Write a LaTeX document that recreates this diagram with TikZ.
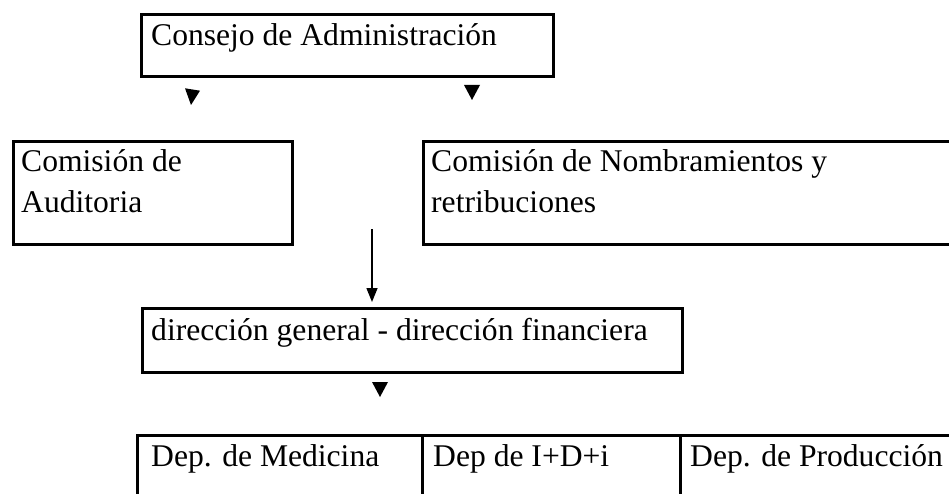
\documentclass[tikz,border=0pt]{standalone}
\usepackage{fontspec}
\setmainfont{Liberation Serif}
\usetikzlibrary{arrows.meta}
\begin{document}
\begin{tikzpicture}[x=1pt,y=-1pt,
  boxshape/.style={draw=black, line width=3pt, outer sep=0pt, inner sep=0pt, anchor=north west},
  lbl/.style={anchor=base west, inner sep=0pt, font=\fontsize{31.6}{36}\selectfont},
  tri/.style={fill=black, draw=none}]
\useasboundingbox (0,0) rectangle (949,494);
\clip (0,0) rectangle (949,494);
% boxes
\node[boxshape, minimum width=411.5pt, minimum height=62.5pt] (consejo) at (141.5,14.5) {};
\node[lbl] (tconsejo) at (151,46) {Consejo de Administración};
\node[boxshape, minimum width=279pt, minimum height=103pt] (audit) at (13.5,141.5) {};
\node[lbl] (ta1) at (21,172) {Comisión de};
\node[lbl] (ta2) at (21,212) {Auditoria};
\node[boxshape, minimum width=560pt, minimum height=103pt] (nomb) at (423.5,141.5) {};
\node[lbl] (tn1) at (431,172) {Comisión de Nombramientos y};
\node[lbl] (tn2) at (431,212) {retribuciones};
\node[boxshape, minimum width=540pt, minimum height=64pt] (dir) at (142,308) {};
\node[lbl] (td) at (151,340) {dirección general - dirección financiera};
% bottom row of departments
\node[boxshape, minimum width=285.5pt, minimum height=100pt] (med) at (137,435) {};
\node[boxshape, minimum width=258pt, minimum height=100pt] (idi) at (422.5,435) {};
\node[boxshape, minimum width=520pt, minimum height=100pt] (prod) at (680.5,435) {};
\node[lbl] (tm) at (151,466) {Dep. de Medicina};
\node[lbl] (ti) at (433,466) {Dep de I+D+i};
\node[lbl] (tp) at (690,466) {Dep. de Producción};
% loose arrowheads
\fill[tri] (185,88.3) -- (200,90.7) -- (191,105) -- cycle;
\fill[tri] (464,85) -- (480,85) -- (472,100) -- cycle;
\fill[tri] (372,382) -- (388,382) -- (380,397) -- cycle;
% vertical arrow
\coordinate (astart) at (372,229);
\draw[line width=1.5pt, -{Triangle[width=11pt,length=14pt]}, shorten >=6pt] (astart) -- (astart |- dir.north);
\end{tikzpicture}
\end{document}
